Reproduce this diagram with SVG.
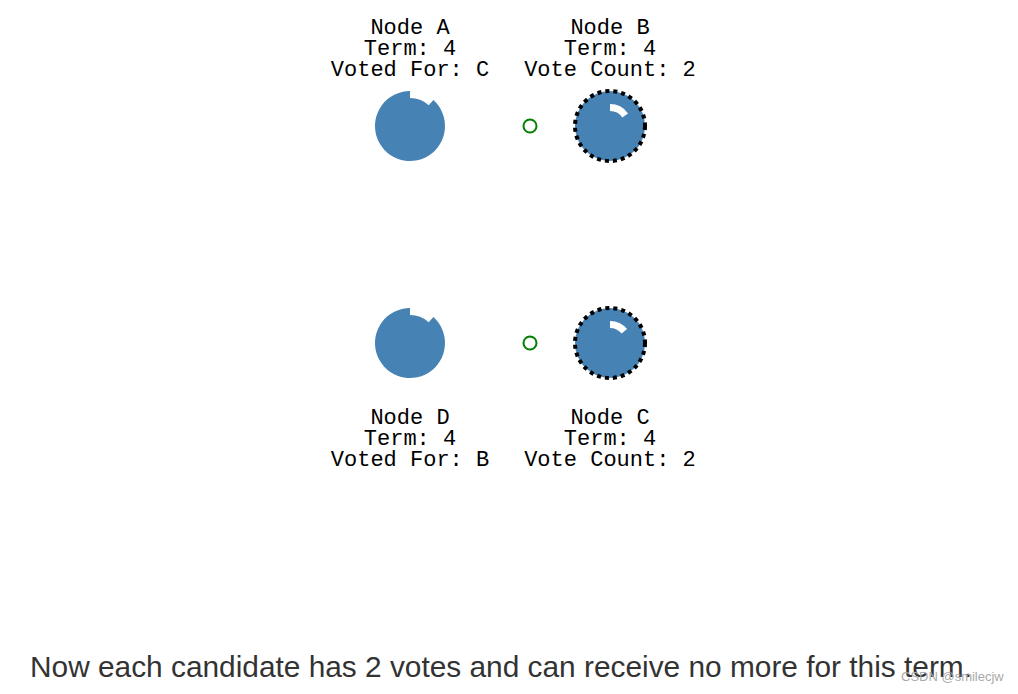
<svg xmlns="http://www.w3.org/2000/svg" width="1018" height="694" viewBox="0 0 1018 694">
<style>
.lbl{font-family:"Liberation Mono","Courier New",monospace;font-size:22px;fill:#000;text-anchor:middle}
.body{fill:#4682b4}
.cand{fill:#4682b4;stroke:#000;stroke-width:4;stroke-dasharray:4 4}
.arc{fill:#fff}
.vote{fill:#fff;stroke:#008000;stroke-width:2}
.cap{font-family:"Liberation Sans",Arial,sans-serif;font-size:29px;fill:#333}
.wm{font-family:"Liberation Sans",Arial,sans-serif;font-size:13px;fill:#aaa}
</style>
<rect width="1018" height="694" fill="#fff"/>
<g id="nodeA">
<path class="body" d="M410 98A28 28 0 0 1 428.74 105.19L433.42 99.99A35 35 0 1 1 410 91Z"/>
<text class="lbl" x="410" y="34">Node A</text>
<text class="lbl" x="410" y="55">Term: 4</text>
<text class="lbl" x="410" y="76">Voted For: C</text>
</g>
<g id="nodeB">
<circle class="cand" cx="610" cy="126" r="35"/>
<path class="arc" d="M610 104A22 22 0 0 1 628.02 113.38L622.29 117.40A15 15 0 0 0 610 111Z"/>
<text class="lbl" x="610" y="34">Node B</text>
<text class="lbl" x="610" y="55">Term: 4</text>
<text class="lbl" x="610" y="76">Vote Count: 2</text>
</g>
<g id="nodeD">
<path class="body" d="M410 315A28 28 0 0 1 428.74 322.19L433.42 316.99A35 35 0 1 1 410 308Z"/>
<text class="lbl" x="410" y="424">Node D</text>
<text class="lbl" x="410" y="445">Term: 4</text>
<text class="lbl" x="410" y="466">Voted For: B</text>
</g>
<g id="nodeC">
<circle class="cand" cx="610" cy="343" r="35"/>
<path class="arc" d="M610 321A22 22 0 0 1 627.06 329.11L621.63 333.56A15 15 0 0 0 610 328Z"/>
<text class="lbl" x="610" y="424">Node C</text>
<text class="lbl" x="610" y="445">Term: 4</text>
<text class="lbl" x="610" y="466">Vote Count: 2</text>
</g>
<g id="connectors">
<circle class="vote" cx="530" cy="126" r="6.5"/>
<circle class="vote" cx="530" cy="343" r="6.5"/>
</g>
<text class="cap" x="30" y="677" textLength="942" lengthAdjust="spacingAndGlyphs">Now each candidate has 2 votes and can receive no more for this term.</text>
<text class="wm" x="901" y="681">CSDN @smilecjw</text>
</svg>
